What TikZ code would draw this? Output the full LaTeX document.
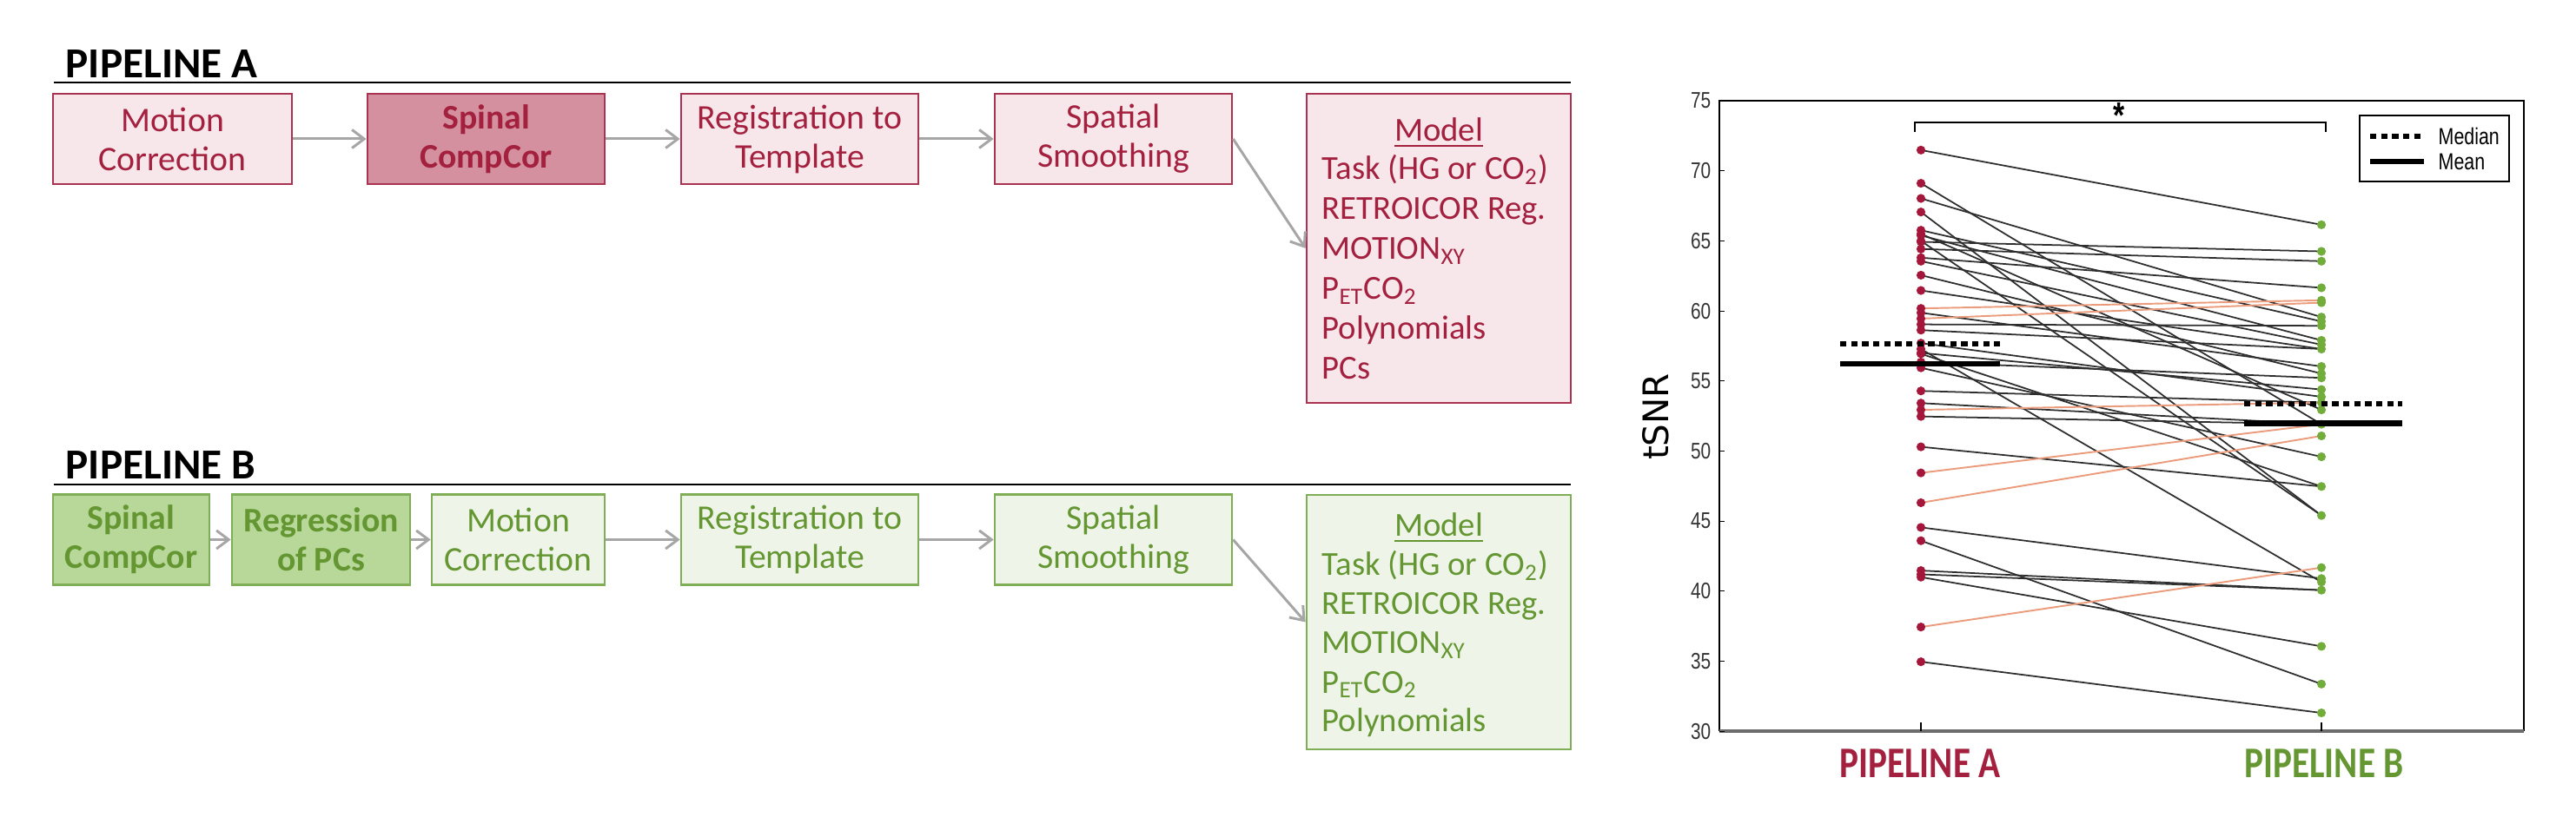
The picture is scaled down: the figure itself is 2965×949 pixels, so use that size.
\documentclass[tikz,border=0pt]{standalone}
\usepackage{fontspec}
\setmainfont{Carlito}
\newfontfamily\condfont[FakeStretch=0.82]{Carlito}
\newfontfamily\tickfont[FakeStretch=0.8]{Liberation Sans}
\newfontfamily\dvfont{DejaVu Sans}
\usetikzlibrary{arrows.meta}
\definecolor{cA}{HTML}{A3203F}
\definecolor{cAfill}{HTML}{F7E6EA}
\definecolor{cAdark}{HTML}{D4909E}
\definecolor{cAborder}{HTML}{A93350}
\definecolor{cB}{HTML}{649632}
\definecolor{cBfill}{HTML}{EFF4E9}
\definecolor{cBdark}{HTML}{B8D89A}
\definecolor{cBborder}{HTML}{7FAE56}
\definecolor{dotA}{HTML}{A5173A}
\definecolor{dotB}{HTML}{72AD3B}
\definecolor{arrgray}{HTML}{A6A6A6}
\definecolor{pline}{HTML}{2E2E2E}
\definecolor{oline}{HTML}{EA9C7C}
\begin{document}
\begin{tikzpicture}[x=0.01cm,y=-0.01cm,
  boxtxt/.style={font=\fontsize{11.3}{12.8}\selectfont, align=center, inner sep=0pt, minimum height=1.04cm},
  boxA/.style={boxtxt, draw=cAborder, fill=cAfill, text=cA, line width=0.7pt},
  boxAd/.style={boxA, fill=cAdark, font=\fontsize{11.3}{12.8}\selectfont\bfseries},
  boxB/.style={boxtxt, draw=cBborder, fill=cBfill, text=cB, line width=0.7pt},
  boxBd/.style={boxB, fill=cBdark, font=\fontsize{11.3}{12.8}\selectfont\bfseries},
  modbox/.style={inner sep=0pt, minimum width=3.04cm, line width=0.7pt},
  modline/.style={font=\fontsize{11}{12.8}\selectfont, anchor=base west, inner sep=0pt},
  heading/.style={font=\fontsize{14}{16}\selectfont\bfseries, anchor=base west, inner sep=0pt},
  axlab/.style={font=\condfont\fontsize{14.3}{16}\selectfont\bfseries, anchor=base, inner sep=0pt},
  arr/.style={draw=arrgray, line width=0.85pt, -{Straight Barb[length=4pt,width=6pt]}},
  rule/.style={line width=0.8pt},
  medbar/.style={line width=1.6pt, dash pattern=on 2.1pt off 1.5pt},
  meanbar/.style={line width=1.85pt},
  ticklab/.style={font=\tickfont\fontsize{7.4}{8}\selectfont, anchor=east, inner sep=0pt, text=black!80},
  legtext/.style={font=\tickfont\fontsize{7.6}{8}\selectfont, anchor=west, inner sep=0pt},
]
\useasboundingbox (0,0) rectangle (2965,949);

% ---------------- PIPELINE A ----------------
\node[heading] (hA) at (75,90) {PIPELINE A};
\draw[rule] (62,95) -- (1808,95);
\node[boxA, minimum width=2.75cm] (mcA) at (198.5,160) {Motion\\Correction};
\node[boxAd, minimum width=2.73cm] (scA) at (559.5,160) {Spinal\\CompCor};
\node[boxA, minimum width=2.73cm] (rtA) at (920.5,160) {Registration to\\Template};
\node[boxA, minimum width=2.73cm] (ssA) at (1281.5,160) {Spatial\\Smoothing};
\node[modbox, draw=cAborder, fill=cAfill, minimum height=3.56cm] (modA) at (1656,286) {};
\node[modline, anchor=base, text=cA] (modAt) at (1656,163) {\underline{Model}};
\node[modline, text=cA] (modA1) at (1521,207) {Task (HG or CO\textsubscript{2})};
\node[modline, text=cA] (modA2) at (1521,253) {RETROICOR Reg.};
\node[modline, text=cA] (modA3) at (1521,299) {MOTION\textsubscript{XY}};
\node[modline, text=cA] (modA4) at (1521,345) {P\textsubscript{ET}CO\textsubscript{2}};
\node[modline, text=cA] (modA5) at (1521,391) {Polynomials};
\node[modline, text=cA] (modA6) at (1521,437) {PCs};
\draw[arr] (mcA.east) -- (scA.west);
\draw[arr] (scA.east) -- (rtA.west);
\draw[arr] (rtA.east) -- (ssA.west);
\draw[arr] (ssA.east) -- (modA.west);

% ---------------- PIPELINE B ----------------
\node[heading] (hB) at (75,552) {PIPELINE B};
\draw[rule] (62,558) -- (1808,558);
\node[boxBd, minimum width=1.80cm] (scB) at (151,621.5) {Spinal\\CompCor};
\node[boxBd, minimum width=2.05cm] (rpB) at (369.5,621.5) {Regression\\of PCs};
\node[boxB, minimum width=1.99cm] (mcB) at (596.5,621.5) {Motion\\Correction};
\node[boxB, minimum width=2.73cm] (rtB) at (920.5,621.5) {Registration to\\Template};
\node[boxB, minimum width=2.73cm] (ssB) at (1281.5,621.5) {Spatial\\Smoothing};
\node[modbox, draw=cBborder, fill=cBfill, minimum height=2.93cm] (modB) at (1656,716.5) {};
\node[modline, anchor=base, text=cB] (modBt) at (1656,618) {\underline{Model}};
\node[modline, text=cB] (modB1) at (1521,663) {Task (HG or CO\textsubscript{2})};
\node[modline, text=cB] (modB2) at (1521,708) {RETROICOR Reg.};
\node[modline, text=cB] (modB3) at (1521,753) {MOTION\textsubscript{XY}};
\node[modline, text=cB] (modB4) at (1521,798) {P\textsubscript{ET}CO\textsubscript{2}};
\node[modline, text=cB] (modB5) at (1521,843) {Polynomials};
\draw[arr] (scB.east) -- (rpB.west);
\draw[arr] (rpB.east) -- (mcB.west);
\draw[arr] (mcB.east) -- (rtB.west);
\draw[arr] (rtB.east) -- (ssB.west);
\draw[arr] (ssB.east) -- (modB.west);

% ---------------- PLOT ----------------
\draw[line width=0.35pt] (1979,842) -- (1979,116) -- (2905,116) -- (2905,842);
\draw[line width=0.9pt, draw=gray!85!black] (1979,842) -- (2905,842);
\draw[line width=0.3pt] (2211,842) -- (2211,832);
\draw[line width=0.3pt] (2672,842) -- (2672,832);

\begin{scope}[x=0.01cm, y=0.16127cm, yshift=-13.2551cm]
  \foreach \v in {30,35,...,75} {
    \draw[line width=0.3pt] (1979,\v) -- (1985,\v);
    \node[ticklab] at (1970,\v) {\v};
  }
  \foreach \a/\b in {71.48/66.15, 69.11/51.91, 68.03/59.56, 67.06/45.40, 65.76/59.25,
      65.50/52.94, 65.39/57.90, 65.00/45.40, 64.93/64.25, 64.42/63.55, 63.80/61.65,
      63.55/57.59, 62.55/55.53, 61.46/57.28, 59.87/56.04, 59.04/58.94, 58.63/57.28,
      57.70/53.87, 57.28/40.65, 57.00/54.39, 56.94/47.47, 56.35/55.22, 55.94/49.59,
      54.29/53.46, 53.42/51.91, 52.47/51.91, 50.30/47.47, 44.55/40.90, 43.60/33.37,
      41.47/40.07, 41.20/40.07, 41.00/36.06, 34.96/31.31}
    \draw[pline, line width=0.5pt] (2211,\a) -- (2672,\b);
  \foreach \a/\b in {60.18/60.76, 59.45/60.59, 52.94/53.46, 48.44/51.91, 46.31/51.08, 37.44/41.68}
    \draw[oline, line width=0.55pt] (2211,\a) -- (2672,\b);
  \foreach \a in {71.48, 69.11, 68.03, 67.06, 65.76, 65.50, 65.39, 65.00, 64.93, 64.42, 63.80,
      63.55, 62.55, 61.46, 60.18, 59.87, 59.45, 59.04, 58.63, 57.70, 57.28, 57.00, 56.94,
      56.35, 55.94, 54.29, 53.42, 52.94, 52.47, 50.30, 48.44, 46.31, 44.55, 43.60,
      41.47, 41.20, 41.00, 37.44, 34.96}
    \fill[dotA] (2211,\a) circle[radius=0.051cm];
  \foreach \b in {66.15, 64.25, 63.55, 61.65, 60.76, 60.59, 59.56, 59.25, 58.94, 57.90,
      57.59, 57.28, 56.04, 55.53, 55.22, 54.39, 53.87, 53.46, 52.94, 51.91, 51.08, 49.59,
      47.47, 45.40, 41.68, 40.90, 40.65, 40.07, 36.06, 33.37, 31.31}
    \fill[dotB] (2672,\b) circle[radius=0.051cm];
\end{scope}

% median / mean bars
\draw[medbar] (2118,396) -- (2302,396);
\draw[meanbar] (2118,419) -- (2302,419);
\draw[medbar] (2583,465) -- (2765,465);
\draw[meanbar] (2583,487.5) -- (2765,487.5);

% significance bracket
\draw[line width=0.5pt] (2204,152) -- (2204,141) -- (2677,141) -- (2677,152);
\node[font=\tickfont\bfseries\fontsize{12}{12}\selectfont, inner sep=0pt] (star) at (2439,133) {*};

% legend
\draw[line width=0.4pt, fill=white] (2716,133) rectangle (2888,209);
\draw[medbar] (2728,157) -- (2790,157);
\draw[meanbar] (2728,186) -- (2790,186);
\node[legtext] (lmed) at (2806,157) {Median};
\node[legtext] (lmean) at (2806,186) {Mean};

% axis titles
\node[font=\dvfont\fontsize{11.5}{12}\selectfont, rotate=90, inner sep=0pt] (ylab) at (1906,480) {tSNR};
\node[axlab, text=cA] (xA) at (2210,896) {PIPELINE A};
\node[axlab, text=cB] (xB) at (2675,896) {PIPELINE B};
\end{tikzpicture}
\end{document}
